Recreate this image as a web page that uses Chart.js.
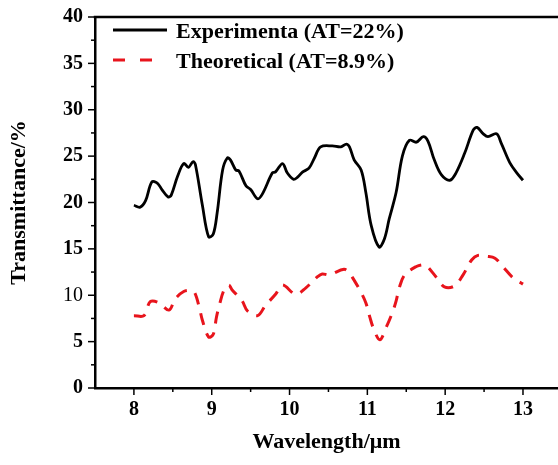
<!DOCTYPE html>
<html>
<head>
<meta charset="utf-8">
<script src="https://cdn.jsdelivr.net/npm/chart.js@4.4.1/dist/chart.umd.min.js"></script>
<style>
    html, body { margin: 0; padding: 0; background: #fff; overflow: hidden; }
    #wrap { width: 558px; height: 465px; }
</style>
</head>
<body>
<div id="wrap"><canvas id="chart" width="558" height="465"></canvas></div>
<script>
// --- data ---
const expX = [8.00, 8.08, 8.15, 8.23, 8.30, 8.36, 8.44, 8.48, 8.56, 8.64, 8.70, 8.76, 8.79, 8.88, 8.96, 9.02, 9.07, 9.14, 9.20, 9.24, 9.31, 9.35, 9.44, 9.50, 9.59, 9.65, 9.78, 9.82, 9.91, 9.97, 10.05, 10.10, 10.17, 10.25, 10.32, 10.40, 10.55, 10.66, 10.73, 10.77, 10.83, 10.92, 10.98, 11.05, 11.15, 11.22, 11.28, 11.37, 11.45, 11.54, 11.63, 11.72, 11.78, 11.86, 11.95, 12.06, 12.14, 12.25, 12.36, 12.41, 12.49, 12.55, 12.66, 12.72, 12.83, 12.92, 13.00];
const expY = [19.7, 19.5, 20.2, 22.2, 22.1, 21.4, 20.6, 20.8, 22.8, 24.2, 23.8, 24.4, 24.1, 19.7, 16.3, 16.6, 18.9, 23.5, 24.8, 24.6, 23.5, 23.4, 21.8, 21.4, 20.4, 20.9, 23.2, 23.3, 24.2, 23.2, 22.5, 22.7, 23.3, 23.7, 24.8, 26.0, 26.1, 26.0, 26.3, 26.0, 24.6, 23.5, 21.1, 17.5, 15.2, 16.1, 18.2, 21.1, 25.0, 26.7, 26.5, 27.1, 26.6, 24.6, 23.0, 22.4, 23.2, 25.3, 27.8, 28.1, 27.4, 27.1, 27.4, 26.4, 24.3, 23.2, 22.4];

const theoX = [8.00, 8.13, 8.21, 8.32, 8.45, 8.53, 8.64, 8.73, 8.78, 8.84, 8.88, 8.96, 9.02, 9.06, 9.10, 9.16, 9.22, 9.26, 9.39, 9.46, 9.59, 9.69, 9.82, 9.91, 10.08, 10.21, 10.36, 10.42, 10.51, 10.70, 10.77, 10.81, 10.90, 10.98, 11.03, 11.08, 11.16, 11.24, 11.32, 11.37, 11.41, 11.48, 11.63, 11.72, 11.76, 11.89, 11.99, 12.12, 12.23, 12.34, 12.42, 12.53, 12.64, 12.74, 12.87, 13.00];
const theoY = [7.8, 7.8, 9.3, 9.2, 8.4, 9.6, 10.4, 10.5, 10.3, 8.7, 7.3, 5.5, 5.8, 7.6, 9.0, 10.6, 11.1, 10.6, 9.4, 8.3, 7.8, 8.9, 10.1, 11.1, 10.1, 10.8, 12.0, 12.3, 12.2, 12.8, 12.4, 11.9, 10.6, 9.2, 7.7, 6.4, 5.2, 6.5, 8.1, 9.4, 10.8, 12.2, 13.1, 13.3, 13.2, 11.9, 10.9, 11.0, 12.2, 13.8, 14.3, 14.2, 14.0, 13.1, 11.9, 11.2];

const seriesLabels = ['Experimenta (AT=22%)', 'Theoretical (AT=8.9%)'];
const xTicks = [7.5, 8, 8.5, 9, 9.5, 10, 10.5, 11, 11.5, 12, 12.5, 13];
const yTicks = [0, 2.5, 5, 7.5, 10, 12.5, 15, 17.5, 20, 22.5, 25, 27.5, 30, 32.5, 35, 37.5, 40];

const FONT = '"Liberation Serif", "Times New Roman", serif';
const AXIS_W = 2.5;

const toPoints = (xs, ys) => xs.map((x, i) => ({ x: x, y: ys[i] }));

// ─── frame, tick marks and in-plot legend ─────────────────────────────
const framePlugin = {
    id: 'frame',
    afterDraw(chart) {
        const { ctx, chartArea: a, scales } = chart;
        ctx.save();
        ctx.strokeStyle = '#000';
        ctx.lineCap = 'butt';

        // top border
        ctx.lineWidth = AXIS_W;
        ctx.beginPath();
        ctx.moveTo(a.left - AXIS_W / 2, a.top);
        ctx.lineTo(a.right, a.top);
        ctx.stroke();

        // tick marks (major long, minor short, all outward)
        ctx.lineWidth = 1.5;
        scales.x.ticks.forEach(t => {
            const px = scales.x.getPixelForValue(t.value);
            if (t.value === 7.5) return;
            const len = Number.isInteger(t.value) ? 7 : 4;
            ctx.beginPath();
            ctx.moveTo(px, a.bottom);
            ctx.lineTo(px, a.bottom + len);
            ctx.stroke();
        });
        scales.y.ticks.forEach(t => {
            const py = scales.y.getPixelForValue(t.value);
            const len = t.value % 5 === 0 ? 7 : 4;
            ctx.beginPath();
            ctx.moveTo(a.left, py);
            ctx.lineTo(a.left - len, py);
            ctx.stroke();
        });

        // legend
        ctx.font = 'bold 22px ' + FONT;
        ctx.textBaseline = 'middle';
        ctx.fillStyle = '#000';
        const rows = [
            { y: 30, color: '#000', dash: [] },
            { y: 60, color: '#e8141c', dash: [12, 15] }
        ];
        rows.forEach((r, i) => {
            ctx.strokeStyle = r.color;
            ctx.lineWidth = 3;
            ctx.setLineDash(r.dash);
            ctx.beginPath();
            ctx.moveTo(113, r.y);
            ctx.lineTo(167, r.y);
            ctx.stroke();
            ctx.setLineDash([]);
            ctx.fillText(seriesLabels[i], 176, r.y + 2);
        });
        ctx.restore();
    }
};

new Chart(document.getElementById('chart'), {
    type: 'line',
    data: {
        datasets: [
            {
                label: seriesLabels[0],
                data: toPoints(expX, expY),
                borderColor: '#000',
                borderWidth: 2.8,
                pointRadius: 0,
                tension: 0.35,
                fill: false
            },
            {
                label: seriesLabels[1],
                data: toPoints(theoX, theoY),
                borderColor: '#e8141c',
                borderWidth: 3,
                borderDash: [12, 9],
                pointRadius: 0,
                tension: 0.35,
                fill: false
            }
        ]
    },
    options: {
        responsive: false,
        animation: false,
        layout: { padding: { top: 12, right: 0, left: 0, bottom: 0 } },
        plugins: { legend: { display: false }, tooltip: { enabled: false } },
        scales: {
            x: {
                type: 'linear',
                min: 7.5,
                max: 13.45,
                afterBuildTicks: s => { s.ticks = xTicks.map(v => ({ value: v })); },
                afterFit: s => { s.height = 77; },
                border: { display: true, color: '#000', width: AXIS_W },
                grid: { drawOnChartArea: false, drawTicks: true, tickLength: 7, tickColor: 'rgba(0,0,0,0)' },
                ticks: {
                    autoSkip: false,
                    maxRotation: 0,
                    padding: 3,
                    color: '#000',
                    font: { family: FONT, size: 20, weight: 'bold' },
                    callback: v => Number.isInteger(v) && v >= 8 ? String(v) : ''
                },
                title: {
                    display: true,
                    text: 'Wavelength/\u03bcm',
                    color: '#000',
                    font: { family: FONT, size: 22, weight: 'bold' },
                    padding: { top: 0, bottom: 9 }
                }
            },
            y: {
                min: 0,
                max: 40,
                afterBuildTicks: s => { s.ticks = yTicks.map(v => ({ value: v })); },
                afterFit: s => { s.width = 95; },
                border: { display: true, color: '#000', width: AXIS_W },
                grid: { drawOnChartArea: false, drawTicks: true, tickLength: 7, tickColor: 'rgba(0,0,0,0)' },
                ticks: {
                    autoSkip: false,
                    padding: 5,
                    color: '#000',
                    font: ctx => ({ family: FONT, size: 20, weight: ctx.tick && ctx.tick.value === 10 ? 'normal' : 'bold' }),
                    callback: v => v % 5 === 0 ? String(v) : ''
                },
                title: {
                    display: true,
                    text: 'Transmittance/%',
                    color: '#000',
                    font: { family: FONT, size: 22, weight: 'bold' },
                    padding: { top: 6, bottom: 0 }
                }
            }
        }
    },
    plugins: [framePlugin]
});
</script>
</body>
</html>
